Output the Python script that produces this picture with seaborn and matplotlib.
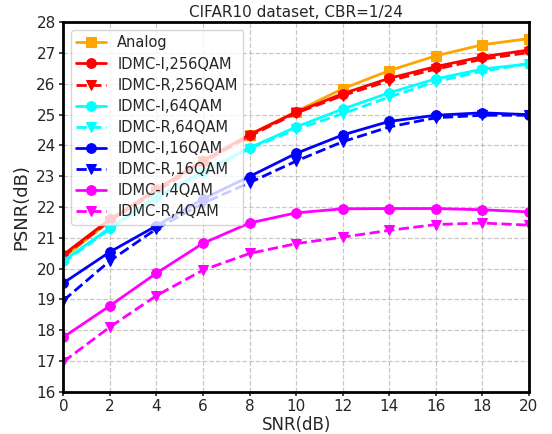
import numpy as np
import matplotlib
matplotlib.use("Agg")
import matplotlib.pyplot as plt
import seaborn as sns

snr = [0, 2, 4, 6, 8, 10, 12, 14, 16, 18, 20]

analog = [20.35, 21.55, 22.6, 23.5, 24.35, 25.1, 25.84, 26.43, 26.91, 27.27, 27.47]
idmc_i_256 = [20.45, 21.6, 22.56, 23.5, 24.35, 25.08, 25.68, 26.18, 26.56, 26.88, 27.1]
idmc_r_256 = [20.4, 21.55, 22.5, 23.45, 24.3, 25.05, 25.62, 26.1, 26.48, 26.8, 27.02]
idmc_i_64 = [20.25, 21.32, 22.34, 23.15, 23.92, 24.6, 25.18, 25.71, 26.16, 26.48, 26.65]
idmc_r_64 = [20.2, 21.28, 22.3, 23.1, 23.9, 24.52, 25.03, 25.57, 26.07, 26.41, 26.65]
idmc_i_16 = [19.53, 20.54, 21.39, 22.26, 22.99, 23.74, 24.34, 24.78, 24.98, 25.06, 25.0]
idmc_r_16 = [18.96, 20.25, 21.29, 22.12, 22.79, 23.49, 24.12, 24.6, 24.9, 24.98, 24.98]
idmc_i_4 = [17.77, 18.79, 19.85, 20.82, 21.48, 21.81, 21.94, 21.95, 21.95, 21.91, 21.84]
idmc_r_4 = [16.97, 18.1, 19.12, 19.95, 20.49, 20.81, 21.02, 21.24, 21.43, 21.48, 21.41]

series = [
    ("Analog", analog, "orange", "s", "-"),
    ("IDMC-I,256QAM", idmc_i_256, "red", "o", "-"),
    ("IDMC-R,256QAM", idmc_r_256, "red", "v", "--"),
    ("IDMC-I,64QAM", idmc_i_64, "cyan", "o", "-"),
    ("IDMC-R,64QAM", idmc_r_64, "cyan", "v", "--"),
    ("IDMC-I,16QAM", idmc_i_16, "blue", "o", "-"),
    ("IDMC-R,16QAM", idmc_r_16, "blue", "v", "--"),
    ("IDMC-I,4QAM", idmc_i_4, "magenta", "o", "-"),
    ("IDMC-R,4QAM", idmc_r_4, "magenta", "v", "--"),
]

sns.set_style("white")
plt.rcParams['font.family'] = ['DejaVu Sans']

fig = plt.figure(figsize=(5.52, 4.34), dpi=100)
ax = fig.add_axes([0.1147, 0.0975, 0.8433, 0.8511])

for name, vals, color, marker, ls in series:
    sns.lineplot(x=snr, y=vals, ax=ax, color=color, marker=marker, linestyle=ls,
                 linewidth=2, markersize=7, markeredgecolor=color, label=name)

ax.set_xlim(0, 20)
ax.set_ylim(16, 28)
ax.set_xticks(range(0, 21, 2))
ax.set_yticks(range(16, 29, 1))
ax.tick_params(axis='both', labelsize=11, direction='out', length=3, width=1.2,
               pad=2.5, left=True, bottom=True)
ax.grid(True, linestyle='--', color='#b0b0b0', alpha=0.7, linewidth=0.9)
for sp in ax.spines.values():
    sp.set_linewidth(2)
    sp.set_color('black')

ax.set_title("CIFAR10 dataset, CBR=1/24", fontsize=11, pad=4)
ax.set_xlabel("SNR(dB)", fontsize=12, labelpad=1)
ax.set_ylabel("PSNR(dB)", fontsize=13, labelpad=4)

ax.legend(loc='upper left', fontsize=10.5, framealpha=0.8, handlelength=2,
          borderpad=0.4, labelspacing=0.42, borderaxespad=0.5)

fig.savefig("out.png", dpi=100)
